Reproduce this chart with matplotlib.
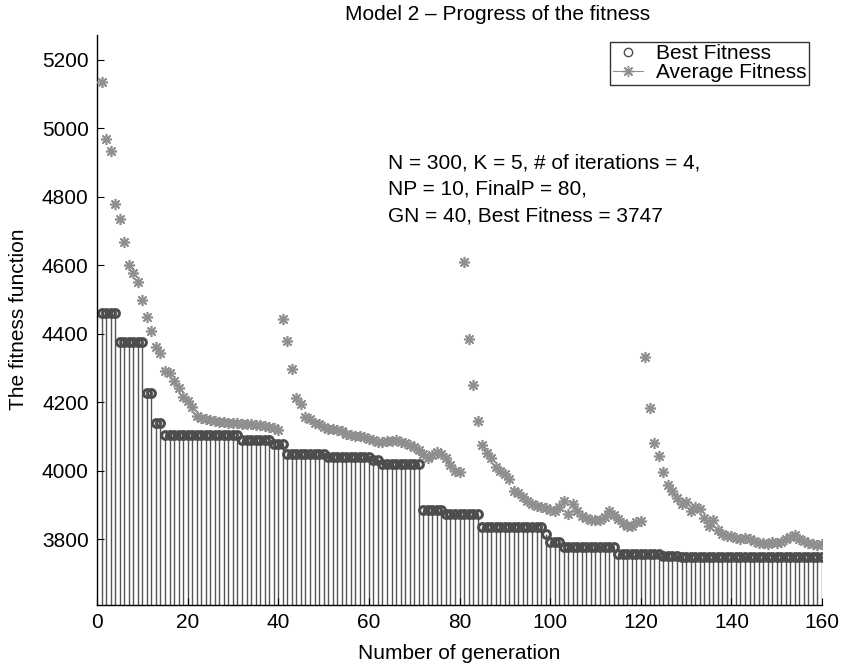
import numpy as np
import matplotlib.pyplot as plt
from matplotlib.lines import Line2D

plt.rcParams['font.family'] = ['Liberation Sans', 'DejaVu Sans']

# generation numbers 1..160
gen = np.arange(1, 161)

# best fitness per generation
best = [
    4460, 4460, 4460, 4460, 4376, 4376, 4376, 4376, 4376, 4376,
    4226, 4226, 4140, 4140, 4105, 4105, 4105, 4105, 4105, 4105,
    4105, 4105, 4105, 4105, 4105, 4105, 4105, 4105, 4105, 4105,
    4105, 4090, 4090, 4090, 4090, 4090, 4090, 4090, 4079, 4079,
    4079, 4050, 4050, 4050, 4050, 4050, 4050, 4050, 4050, 4050,
    4040, 4040, 4040, 4040, 4040, 4040, 4040, 4040, 4040, 4040,
    4030, 4030, 4020, 4020, 4020, 4020, 4020, 4020, 4020, 4020,
    4020, 3886, 3886, 3886, 3886, 3886, 3874, 3874, 3874, 3874,
    3874, 3874, 3874, 3874, 3835, 3835, 3835, 3835, 3835, 3835,
    3835, 3835, 3835, 3835, 3835, 3835, 3835, 3835, 3815, 3793,
    3793, 3793, 3777, 3777, 3777, 3777, 3777, 3777, 3777, 3777,
    3777, 3777, 3777, 3777, 3757, 3757, 3757, 3757, 3757, 3757,
    3757, 3757, 3757, 3757, 3751, 3751, 3751, 3751, 3747, 3747,
    3747, 3747, 3747, 3747, 3747, 3747, 3747, 3747, 3747, 3747,
    3747, 3747, 3747, 3747, 3747, 3747, 3747, 3747, 3747, 3747,
    3747, 3747, 3747, 3747, 3747, 3747, 3747, 3747, 3747, 3747,
]

# average fitness per generation
avg = [
    5136, 4969, 4935, 4779, 4735, 4668, 4600, 4578, 4551, 4500,
    4449, 4407, 4361, 4345, 4291, 4286, 4261, 4242, 4215, 4205,
    4187, 4161, 4154, 4150, 4147, 4145, 4143, 4141, 4140, 4139,
    4138, 4137, 4136, 4135, 4134, 4133, 4131, 4129, 4125, 4118,
    4442, 4378, 4297, 4213, 4195, 4158, 4151, 4140, 4135, 4128,
    4122, 4122, 4120, 4115, 4108, 4105, 4102, 4100, 4097, 4093,
    4090, 4085, 4083, 4086, 4088, 4089, 4085, 4080, 4074, 4068,
    4060, 4048, 4038, 4045, 4056, 4050, 4036, 4016, 3998, 3995,
    4610, 4386, 4249, 4146, 4076, 4052, 4037, 4012, 4000, 3990,
    3976, 3942, 3934, 3924, 3912, 3903, 3898, 3895, 3891, 3885,
    3883, 3895, 3912, 3873, 3903, 3881, 3868, 3861, 3856, 3855,
    3855, 3865, 3881, 3871, 3858, 3846, 3839, 3837, 3849, 3852,
    4332, 4183, 4081, 4042, 3997, 3958, 3942, 3919, 3903, 3908,
    3881, 3895, 3888, 3861, 3839, 3857, 3827, 3815, 3810, 3808,
    3803, 3800, 3803, 3800, 3795, 3790, 3788, 3785, 3792, 3788,
    3792, 3800, 3807, 3813, 3800, 3795, 3790, 3785, 3783, 3787,
]

xticks = [0, 20, 40, 60, 80, 100, 120, 140, 160]
yticks = [3800, 4000, 4200, 4400, 4600, 4800, 5000, 5200]
note = ("N = 300, K = 5, # of iterations = 4,\n"
        "NP = 10, FinalP = 80,\n"
        "GN = 40, Best Fitness = 3747")

Y0, Y1 = 3609, 5273
BEST_C = '#4d4d4d'
AVG_C = '#8f8f8f'
ast = (8, 2, 0)   # 8-armed asterisk like MATLAB '*'
FS = 15

fig = plt.figure(figsize=(8.45, 6.69), dpi=100)
ax = fig.add_axes([0.1148, 0.0964, 0.858, 0.8513])

ax.vlines(gen, Y0 - 50, best, color='#555555', lw=1.0, zorder=1)
ax.plot(gen, best, ls='none', marker='o', ms=5.6, mfc='none',
        mec=BEST_C, mew=2.2, zorder=2)
ax.plot(gen, avg, ls='none', marker=ast, ms=8, mec=AVG_C, mew=1.2, zorder=3)

ax.set_xlim(0, 160)
ax.set_ylim(Y0, Y1)
ax.set_xticks(xticks)
ax.set_yticks(yticks)
ax.tick_params(direction='in', length=5, width=0.8, labelsize=FS, pad=6)
for s in ('top', 'right'):
    ax.spines[s].set_visible(False)
for s in ('left', 'bottom'):
    ax.spines[s].set_linewidth(1.0)

ax.set_xlabel('Number of generation', fontsize=FS, labelpad=9)
ax.set_ylabel('The fitness function', fontsize=FS, labelpad=10)
fig.text(0.589, 0.970, 'Model 2 \u2013 Progress of the fitness',
         ha='center', va='baseline', fontsize=FS)

ax.text(64.2, 4928, note, ha='left', va='top', fontsize=FS, linespacing=1.5)

handles = [
    Line2D([0], [0], ls='none', marker='o', ms=6, mfc='none', mec=BEST_C, mew=1.0),
    Line2D([0], [0], ls='-', lw=0.8, color=AVG_C, marker=ast, ms=8, mec=AVG_C),
]
leg = ax.legend(handles, ['Best Fitness', 'Average Fitness'],
                loc='upper left', bbox_to_anchor=(0.7076, 0.9877),
                fontsize=FS, frameon=True, fancybox=False,
                borderpad=0.12, labelspacing=0.0, handlelength=1.45,
                handletextpad=0.65, borderaxespad=0.0)
leg.get_frame().set_edgecolor('black')
leg.get_frame().set_linewidth(1.0)

fig.savefig('out.png', dpi=100)
